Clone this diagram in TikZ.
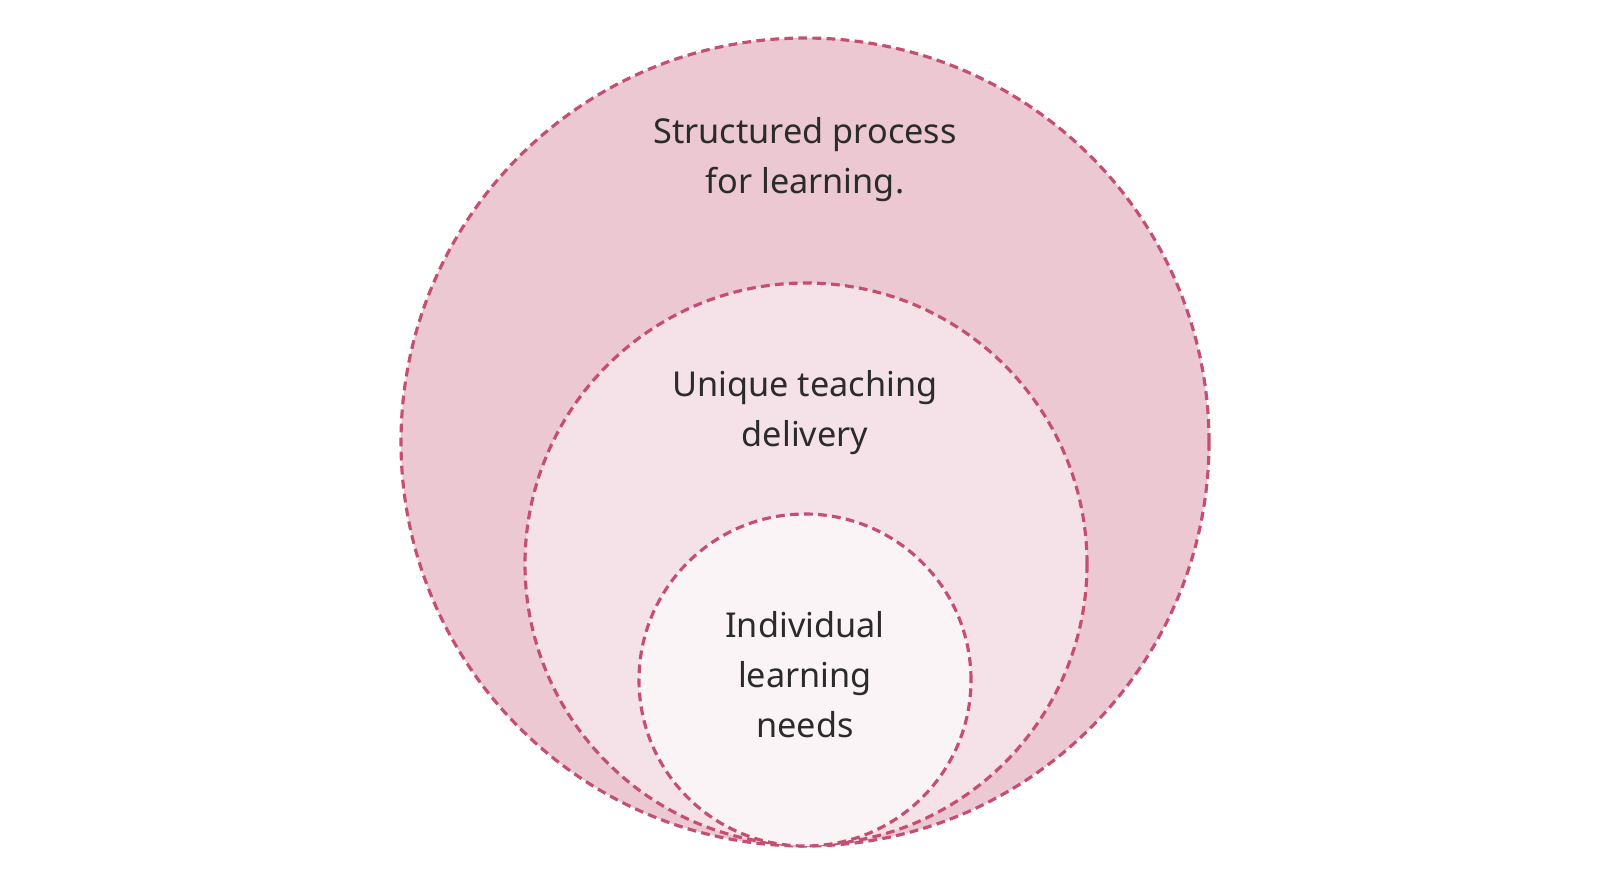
\documentclass[tikz,border=0pt]{standalone}
\usepackage{fontspec}
\setmainfont{Noto Sans}
\definecolor{edge}{HTML}{C54F72}
\definecolor{f1}{HTML}{EBC8D2}
\definecolor{f2}{HTML}{F5E2E8}
\definecolor{f3}{HTML}{FBF4F6}
\definecolor{txt}{HTML}{2B2B2B}
\tikzset{ring/.style={circle,draw=edge,line width=1.8pt,dash pattern=on 5pt off 3pt,inner sep=0pt},
lbl/.style={align=center,text=txt,font=\fontsize{19.5}{28.5}\selectfont}}
\begin{document}
\begin{tikzpicture}[x=0.02cm,y=-0.02cm]
\useasboundingbox (0,0) rectangle (1600,880);
\node[ring,fill=f1,minimum size=808*0.02cm] (outer) at (805,442) {};
\node[ring,fill=f2,minimum size=562*0.02cm] (mid) at (806,564) {};
\node[ring,fill=f3,minimum size=332*0.02cm] (inner) at (805,680) {};
\node[lbl] (t1) at (805,160) {Structured process\\for learning.};
\node[lbl] (t2) at (805,413) {Unique teaching\\delivery};
\node[lbl] (t3) at (805,675) {Individual\\learning\\needs};
\end{tikzpicture}
\end{document}
